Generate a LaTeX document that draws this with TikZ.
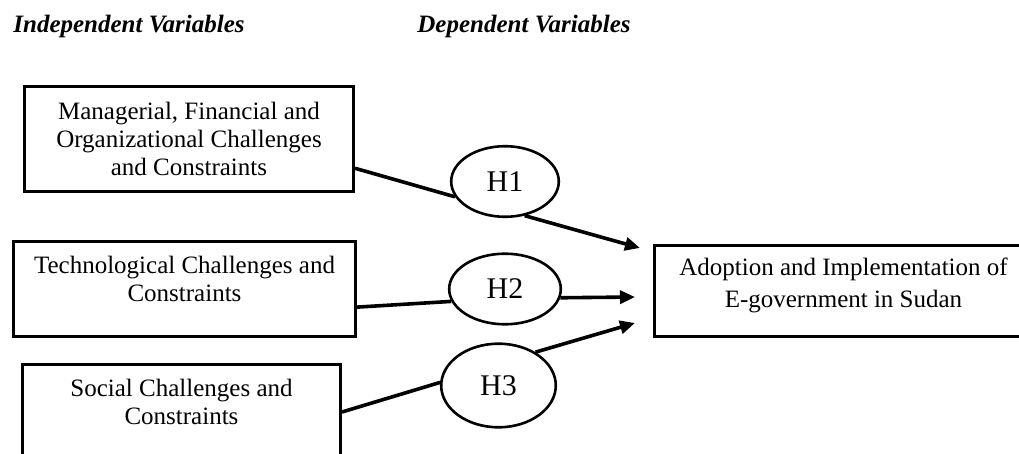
\documentclass[tikz,border=0pt]{standalone}
\usepackage{fontspec}
\setmainfont{Liberation Serif}
\usetikzlibrary{arrows.meta,shapes.geometric}
\tikzset{
  every picture/.style={x=0.5pt, y=-0.5pt, font=\fontsize{12.5}{14}\selectfont},
  head/.style={anchor=base west, inner sep=0pt, font=\fontsize{12.5}{14}\selectfont\bfseries\itshape},
  var/.style={draw, rectangle, line width=1.5pt, align=center, inner sep=0pt},
  hyp/.style={draw, ellipse, line width=1.3pt, inner sep=0pt, font=\fontsize{15}{16}\selectfont},
  link/.style={line width=1.8pt},
  to box/.style={link, -{Triangle[length=7.5pt,width=6.5pt]}},
}

\begin{document}
\begin{tikzpicture}
  \useasboundingbox (0,0) rectangle (1019,454);
  \node[head] (indep) at (13,33) {Independent Variables};
  \node[head] (dep) at (417,33) {Dependent Variables};

  % independent variables
  \node[var, minimum width=164.5pt, minimum height=52.5pt] (mfo) at (189,139)
    {Managerial, Financial and\\Organizational Challenges\\and Constraints};
  \node[var, minimum width=171pt, minimum height=47.5pt, text depth=10pt] (tech) at (184.5,289)
    {Technological Challenges and\\Constraints};
  \node[var, minimum width=159pt, minimum height=47.5pt, text depth=10pt] (soc) at (181.5,412)
    {Social Challenges and\\Constraints};

  % dependent variable
  \node[var, minimum width=189pt, minimum height=45.5pt, text depth=8.7pt,
        font=\fontsize{12.5}{16}\selectfont] (egov) at (843.5,291)
    {Adoption and Implementation of\\E-government in Sudan};

  \node[hyp, minimum width=53.8pt, minimum height=35.3pt] (h1) at (505,181.5) {H1};
  \node[hyp, minimum width=55.8pt, minimum height=35.3pt] (h2) at (505,289) {H2};
  \node[hyp, minimum width=57.3pt, minimum height=41.8pt] (h3) at (498.5,385.5) {H3};

  \coordinate (t1) at (640,248);
  \coordinate (t2) at (635,297);
  \coordinate (t3) at (635,323);

  \foreach \v/\h/\a/\b/\c/\t in {mfo/h1/-10/197/-60/t1, tech/h2/-6/193/-9/t2, soc/h3/0/177/42/t3}{
    \draw[link] (\v.\a) -- (\h.\b);
    \draw[to box] (\h.\c) -- (\t);
  }
\end{tikzpicture}
\end{document}
